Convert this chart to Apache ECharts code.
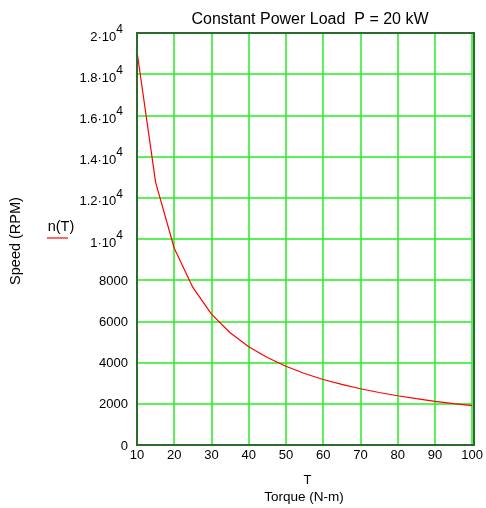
<!DOCTYPE html>
<html>
<head>
<meta charset="utf-8">
<script src="https://cdn.jsdelivr.net/npm/echarts@6/dist/echarts.min.js"></script>
<style>
  html, body { margin: 0; padding: 0; background: #fff; }
  #main { width: 486px; height: 508px; }
</style>
</head>
<body>
<div id="main"></div>
<script>
// torque samples (N-m) and speed (RPM)
var torque = [10, 15, 20, 25, 30, 35, 40, 45, 50, 55, 60, 65, 70, 75, 80, 85, 90, 95, 100];
var speed = [19100, 12750, 9550, 7650, 6350, 5450, 4770, 4250, 3820, 3470, 3180, 2940, 2730, 2550, 2390, 2250, 2120, 2010, 1910];
var xTicks = [10, 20, 30, 40, 50, 60, 70, 80, 90, 100];
var yTicks = [0, 2000, 4000, 6000, 8000, 10000, 12000, 14000, 16000, 18000, 20000];

var chartDom = document.getElementById('main');
var myChart = echarts.init(chartDom);
var option;

var seriesData = [];
for (var i = 0; i < torque.length; i++) {
    seriesData.push([torque[i], speed[i]]);
}

var font = 'Liberation Sans, Arial, sans-serif';
var gridGreen = '#22ee22';

option = {
    animation: false,
    backgroundColor: '#fff',
    title: {
        text: 'Constant Power Load  P = 20 kW',
        left: 305,
        top: 7,
        textAlign: 'center',
        textStyle: { fontFamily: font, fontSize: 16, fontWeight: 'normal', color: '#000' }
    },
    grid: { left: 137, right: 12, top: 33, bottom: 63 },
    xAxis: {
        type: 'value',
        min: 10,
        max: 100,
        interval: 10,
        name: 'T',
        nameLocation: 'middle',
        nameGap: 29,
        nameTextStyle: { fontFamily: font, fontSize: 13, color: '#000', padding: [0, 0, 0, 6] },
        axisLine: { show: true, lineStyle: { color: '#1d5a1d', width: 2 } },
        axisTick: { show: false },
        axisLabel: {
            fontFamily: font, fontSize: 13, color: '#000', margin: 4,
            formatter: function (v) { return xTicks.indexOf(v) >= 0 ? String(v) : ''; }
        },
        splitLine: { show: true, lineStyle: { color: gridGreen, width: 1.5 } }
    },
    yAxis: {
        type: 'value',
        min: 0,
        max: 20000,
        interval: 2000,
        axisLine: { show: true, lineStyle: { color: '#1d3a1d', width: 2 } },
        axisTick: { show: false },
        axisLabel: {
            fontFamily: font, fontSize: 13, color: '#000', margin: 9,
            formatter: function (v) {
                if (yTicks.indexOf(v) < 0) return '';
                if (v >= 10000) return '{b|' + (v / 10000) + '·10}{s|4}';
                return '{n|' + v + '}';
            },
            rich: {
                n: { fontFamily: font, fontSize: 13, color: '#000', padding: [2, 0, 0, 0] },
                b: { fontFamily: font, fontSize: 13, color: '#000', padding: [8, 0, 0, 0] },
                s: { fontFamily: font, fontSize: 12, color: '#000', padding: [0, 5, 7, 0] }
            }
        },
        splitLine: { show: true, lineStyle: { color: gridGreen, width: 1.5 } }
    },
    graphic: [
        {
            type: 'text', x: 304, y: 497,
            style: { text: 'Torque (N-m)', font: '13.5px ' + font, fill: '#000', align: 'center', verticalAlign: 'middle' }
        },
        {
            type: 'text', x: 16, y: 241, rotation: Math.PI / 2,
            style: { text: 'Speed (RPM)', font: '14.5px ' + font, fill: '#000', align: 'center', verticalAlign: 'middle' }
        },
        {
            type: 'text', x: 61, y: 227,
            style: { text: 'n(T)', font: '14.5px ' + font, fill: '#000', align: 'center', verticalAlign: 'middle' }
        },
        {
            type: 'line', shape: { x1: 47, y1: 238, x2: 68, y2: 238 },
            style: { stroke: '#ff0000', lineWidth: 1.2 }
        },
        {
            type: 'rect', shape: { x: 137, y: 33, width: 337, height: 412 },
            style: { fill: 'none', stroke: '#2d6a2d', lineWidth: 2 }, z: 100
        }
    ],
    series: [{
        name: 'n(T)',
        type: 'line',
        data: seriesData,
        showSymbol: false,
        smooth: false,
        lineStyle: { color: '#ff0000', width: 1.2 },
        itemStyle: { color: '#ff0000' },
        z: 5
    }]
};

option && myChart.setOption(option);
</script>
</body>
</html>
